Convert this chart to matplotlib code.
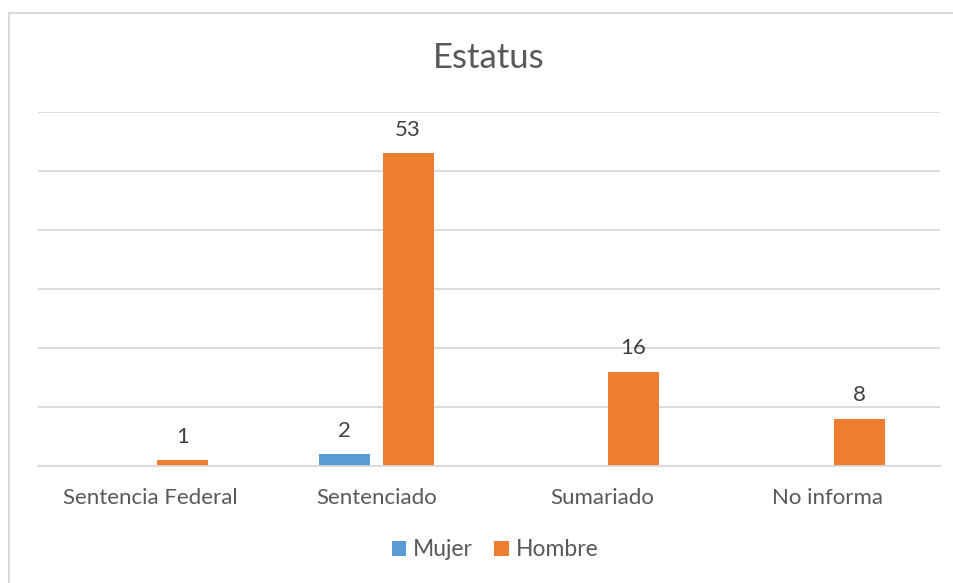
import numpy as np
import matplotlib.pyplot as plt
from matplotlib.patches import Rectangle

categorias = ['Sentencia Federal', 'Sentenciado', 'Sumariado', 'No informa']
mujer = [0, 2, 0, 0]
hombre = [1, 53, 16, 8]

AZUL = '#5b9bd5'
NARANJA = '#ed7d31'
GRIS_TXT = '#595959'
GRIS_LIN = '#d9d9d9'

plt.rcParams['font.family'] = ['Lato', 'DejaVu Sans']

fig = plt.figure(figsize=(9.54, 5.83), dpi=100)
ax = fig.add_axes([38/954, 1-466/583, (940-38)/954, (466-112)/583])

# marco del grafico
fig.patches.append(Rectangle((9.5/954, -0.05), 1.1, 1-13/583+0.05, transform=fig.transFigure,
                             fill=False, edgecolor=GRIS_LIN, linewidth=1.5))

x = np.arange(len(categorias))
w = 0.226
off = 0.141
b1 = ax.bar(x - off, mujer, w, color=AZUL, label='Mujer')
b2 = ax.bar(x + off, hombre, w, color=NARANJA, label='Hombre')

for bars, vals in ((b1, mujer), (b2, hombre)):
    for b, v in zip(bars, vals):
        if v:
            ax.text(b.get_x() + b.get_width()/2, v + 2.3, str(v), ha='center', va='bottom',
                    fontsize=16, color='#404040')

ax.set_xlim(-0.5, len(categorias) - 0.5)
ax.set_ylim(0, 60)
ax.set_yticks(np.arange(0, 61, 10))
ax.yaxis.grid(True, color=GRIS_LIN, linewidth=1.3)
ax.set_axisbelow(True)
ax.tick_params(axis='y', left=False, labelleft=False)
ax.tick_params(axis='x', bottom=False, pad=12)
ax.set_xticks(x)
ax.set_xticklabels(categorias, fontsize=16, color=GRIS_TXT)
for s in ['top', 'right', 'left']:
    ax.spines[s].set_visible(False)
ax.spines['bottom'].set_color(GRIS_LIN)
ax.spines['bottom'].set_linewidth(1.3)

fig.text(489/954, 1-58/583, 'Estatus', ha='center', va='center', fontsize=25, color=GRIS_TXT)

fig.legend(loc='center', bbox_to_anchor=(495/954, 1-550/583), ncol=2, frameon=False,
           fontsize=16.5, labelcolor=GRIS_TXT, handlelength=0.65, handleheight=0.65,
           handletextpad=0.3, columnspacing=0.9)

fig.savefig('out.png', dpi=100)
